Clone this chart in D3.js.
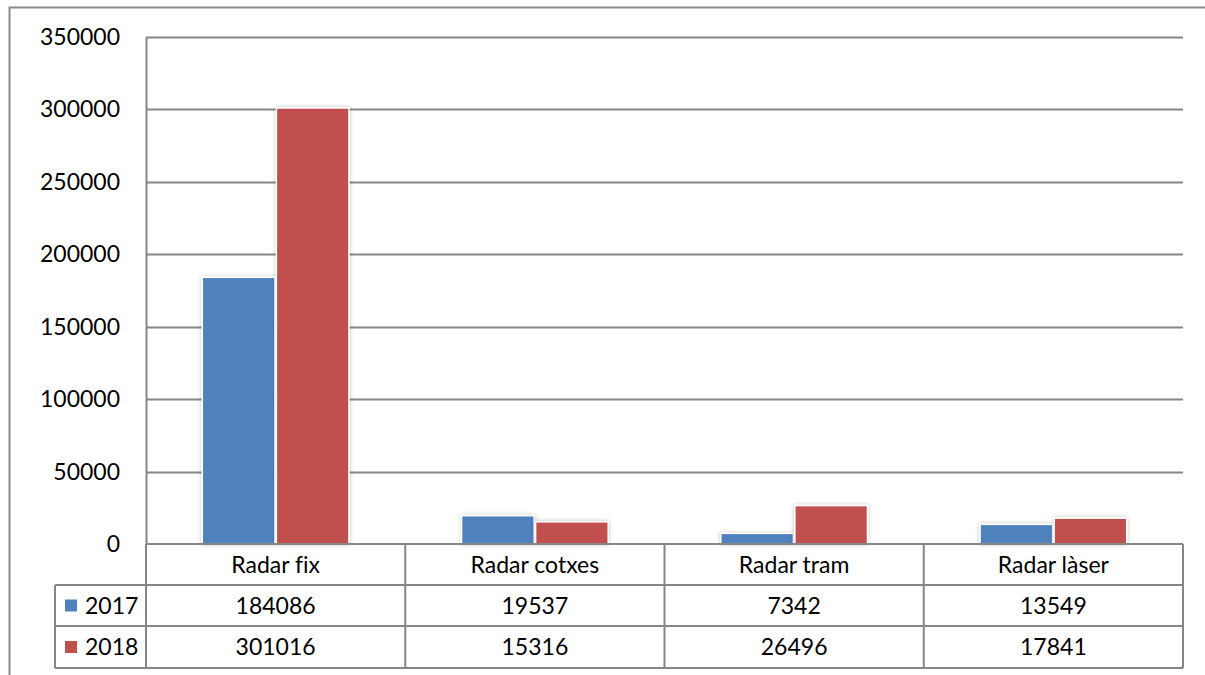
<!DOCTYPE html>
<html><head><meta charset="utf-8">
<script src="https://cdn.jsdelivr.net/npm/d3@7"></script>
<style>
html,body{margin:0;padding:0;background:#fff;}
svg{display:block;font-family:Lato,"Open Sans",sans-serif;font-variant-ligatures:none;}
</style></head>
<body>
<svg id="c" width="1205" height="675"></svg>
<script>
const categories = ["Radar fix", "Radar cotxes", "Radar tram", "Radar làser"];
const seriesNames = ["2017", "2018"];
const values2017 = [184086, 19537, 7342, 13549];
const values2018 = [301016, 15316, 26496, 17841];
const yTicks = [0, 50000, 100000, 150000, 200000, 250000, 300000, 350000];
const colors = ["#4F81BD", "#C0504D"];

const series = [values2017, values2018];
const svg = d3.select("#c");
const L = 146, R = 1183, T = 37, B = 544;
const rowH = [41, 41, 42]; // header, 2017, 2018
const legendLeft = 55;
const fs = 23;

const defs = svg.append("defs");
const f = defs.append("filter").attr("id","sh").attr("x","-20%").attr("y","-20%").attr("width","140%").attr("height","140%");
f.append("feDropShadow").attr("dx",0).attr("dy",0).attr("stdDeviation",2).attr("flood-color","#000").attr("flood-opacity",0.25);

// outer border
svg.append("path").attr("d","M9.5,675 V7.5 H1205").attr("fill","none").attr("stroke","#8a8a8a").attr("stroke-width",2);

const y = d3.scaleLinear().domain([0, 350000]).range([B, T]);
const x = d3.scaleBand().domain(categories).range([L, R]).paddingInner(0).paddingOuter(0);
const xs = d3.scaleBand().domain(seriesNames).range([0, x.bandwidth()]).paddingInner(0.02).paddingOuter(0.76);

// gridlines
svg.append("g").selectAll("line").data(yTicks.filter(d=>d>0)).join("line")
  .attr("x1", L).attr("x2", R).attr("y1", d=>Math.round(y(d))+0.5).attr("y2", d=>Math.round(y(d))+0.5)
  .attr("stroke","#868686").attr("stroke-width",2);

// y axis line
svg.append("line").attr("x1",L+0.5).attr("x2",L+0.5).attr("y1",T).attr("y2",B).attr("stroke","#868686").attr("stroke-width",2);

// y labels
svg.append("g").selectAll("text").data(yTicks).join("text")
  .attr("x", 120).attr("y", d=>y(d)).attr("dy","0.35em").attr("text-anchor","end")
  .attr("font-size", fs).attr("fill","#000").text(d=>d);

// bars
series.forEach((vals, si) => {
  svg.append("g").selectAll("rect").data(vals).join("rect")
    .attr("x", (d,i)=>x(categories[i]) + xs(seriesNames[si]))
    .attr("y", d=>y(d))
    .attr("width", xs.bandwidth())
    .attr("height", d=>B - y(d))
    .attr("fill", colors[si]).attr("stroke","#fff").attr("stroke-width",1.5)
    .attr("filter","url(#sh)");
});

// data table
const g = svg.append("g").attr("stroke","#868686").attr("stroke-width",2).attr("fill","none");
const y0 = B, y1 = B + rowH[0], y2 = y1 + rowH[1], y3 = y2 + rowH[2];
g.append("line").attr("x1",L).attr("x2",R).attr("y1",y0).attr("y2",y0);
g.append("line").attr("x1",legendLeft).attr("x2",R).attr("y1",y1).attr("y2",y1);
g.append("line").attr("x1",legendLeft).attr("x2",R).attr("y1",y2).attr("y2",y2);
g.append("line").attr("x1",legendLeft).attr("x2",R).attr("y1",y3).attr("y2",y3);
g.append("line").attr("x1",legendLeft).attr("x2",legendLeft).attr("y1",y1).attr("y2",y3);
const bounds = categories.map(c=>x(c)).concat([R]);
g.selectAll(".v").data(bounds).join("line").attr("class","v")
  .attr("x1",d=>d).attr("x2",d=>d).attr("y1",y0).attr("y2",y3);

// header
svg.append("g").selectAll("text").data(categories).join("text")
  .attr("x", d=>x(d)+x.bandwidth()/2).attr("y", (y0+y1)/2).attr("dy","0.35em")
  .attr("text-anchor","middle").attr("font-size",fs).text(d=>d);

// rows
const rowYs = [(y1+y2)/2, (y2+y3)/2];
series.forEach((vals, si) => {
  svg.append("rect").attr("x",65).attr("y",rowYs[si]-6).attr("width",12).attr("height",12).attr("fill",colors[si]);
  svg.append("text").attr("x",85).attr("y",rowYs[si]).attr("dy","0.35em").attr("font-size",fs).text(seriesNames[si]);
  svg.append("g").selectAll("text").data(vals).join("text")
    .attr("x",(d,i)=>x(categories[i])+x.bandwidth()/2).attr("y",rowYs[si]).attr("dy","0.35em")
    .attr("text-anchor","middle").attr("font-size",fs).text(d=>d);
});
</script>
</body></html>
